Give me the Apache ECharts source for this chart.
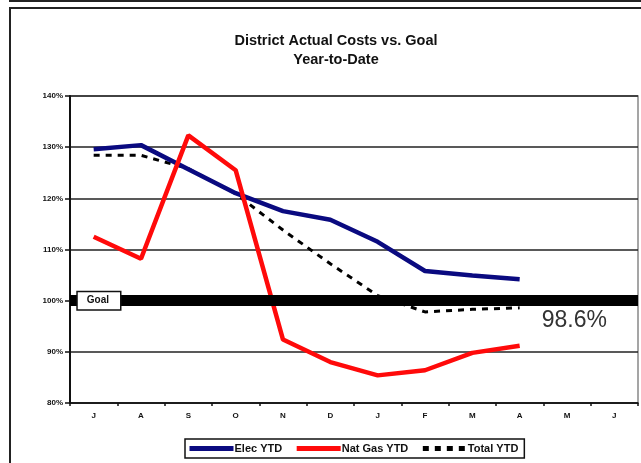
<!DOCTYPE html>
<html><head><meta charset="utf-8">
<script src="https://cdn.jsdelivr.net/npm/echarts@6/dist/echarts.min.js"></script>
<style>html,body{margin:0;padding:0;background:#fff}#c{width:641px;height:463px}</style>
</head><body><div id="c"></div>
<script>
const months = ['J','A','S','O','N','D','J','F','M','A','M','J'];
const elecYTD = [129.6, 130.4, 125.7, 121.0, 117.5, 115.8, 111.5, 105.8, 104.9, 104.2, null, null];
const natGasYTD = [112.5, 108.2, 132.3, 125.5, 92.4, 88.0, 85.4, 86.4, 89.8, 91.2, null, null];
const totalYTD = [128.4, 128.4, 125.8, 120.9, 113.8, 107.2, 101.0, 97.8, 98.3, 98.6, null, null];
const goalValue = 100;
const yTicks = {min: 80, max: 140, interval: 10};

const font = 'Liberation Sans, Arial, sans-serif';
const chart = echarts.init(document.getElementById('c'));
chart.setOption({
  animation: false,
  backgroundColor: '#fff',
  title: {
    text: 'District Actual Costs vs. Goal\nYear-to-Date',
    left: 331, textAlign: 'center', top: 26,
    textStyle: {fontFamily: font, fontSize: 14.5, fontWeight: 'bold', color: '#111', lineHeight: 19}
  },
  grid: {left: 70, right: 3, top: 96, bottom: 60},
  legend: {
    left: 185, top: 439,
    padding: [4, 6, 4, 2],
    borderColor: '#111', borderWidth: 1.5,
    itemWidth: 44, itemHeight: 12, itemGap: 12,
    itemStyle: {opacity: 0},
    lineStyle: {width: 5},
    textStyle: {fontFamily: font, fontSize: 11, fontWeight: 'bold', color: '#111', padding: [0, 0, 0, -4]},
    data: ['Elec YTD', 'Nat Gas YTD', 'Total YTD']
  },
  xAxis: {
    type: 'category', data: months, boundaryGap: true,
    axisLine: {lineStyle: {color: '#111', width: 1.5}},
    axisTick: {show: true, length: 3, lineStyle: {color: '#111', width: 1.5}},
    axisLabel: {fontFamily: font, fontSize: 8, fontWeight: 'bold', color: '#111', margin: 9},
    splitLine: {show: false}
  },
  yAxis: {
    type: 'value', min: yTicks.min, max: yTicks.max, interval: yTicks.interval,
    axisLine: {show: true, lineStyle: {color: '#111', width: 2}},
    axisTick: {show: true, length: 5, lineStyle: {color: '#111', width: 1.5}},
    axisLabel: {formatter: '{value}%', fontFamily: font, fontSize: 8, fontWeight: 'bold', color: '#111', margin: 7},
    splitLine: {show: true, lineStyle: {color: '#222', width: 1.5}}
  },
  graphic: [
    {type: 'rect', shape: {x: 10, y: 8, width: 700, height: 500}, style: {fill: 'none', stroke: '#222', lineWidth: 2}, silent: true},
    {type: 'line', shape: {x1: 9, y1: 1, x2: 641, y2: 1}, style: {stroke: '#222', lineWidth: 2}, silent: true},
    {type: 'rect', shape: {x: 70, y: 96, width: 568, height: 307}, style: {fill: 'none', stroke: '#888', lineWidth: 1.5}, silent: true, z: 0}
  ],
  series: [
    {
      name: 'Elec YTD', type: 'line', data: elecYTD, symbol: 'none', z: 3,
      lineStyle: {color: '#0a0a80', width: 4.5}, itemStyle: {color: '#0a0a80'}
    },
    {
      name: 'Nat Gas YTD', type: 'line', data: natGasYTD, symbol: 'none', z: 4,
      lineStyle: {color: '#ff0a0a', width: 4.5}, itemStyle: {color: '#ff0a0a'}
    },
    {
      name: 'Total YTD', type: 'line', data: totalYTD, symbol: 'none', z: 2,
      lineStyle: {color: '#000', width: 3, type: [6, 6]}, itemStyle: {color: '#000'},
      endLabel: {
        show: true, formatter: (p) => p.value.toFixed(1) + '%',
        fontFamily: font, fontSize: 23, color: '#333', offset: [14, 13]
      },
      markLine: {
        silent: true, symbol: 'none',
        data: [{yAxis: goalValue}],
        lineStyle: {color: '#000', width: 11, type: 'solid'},
        label: {
          show: true, position: 'start', formatter: 'Goal', offset: [55, 0],
          fontFamily: font, fontSize: 10, fontWeight: 'bold', color: '#111',
          backgroundColor: '#fff', borderColor: '#111', borderWidth: 1.5, padding: [4, 11, 3, 9]
        }
      }
    }
  ]
});
</script></body></html>
